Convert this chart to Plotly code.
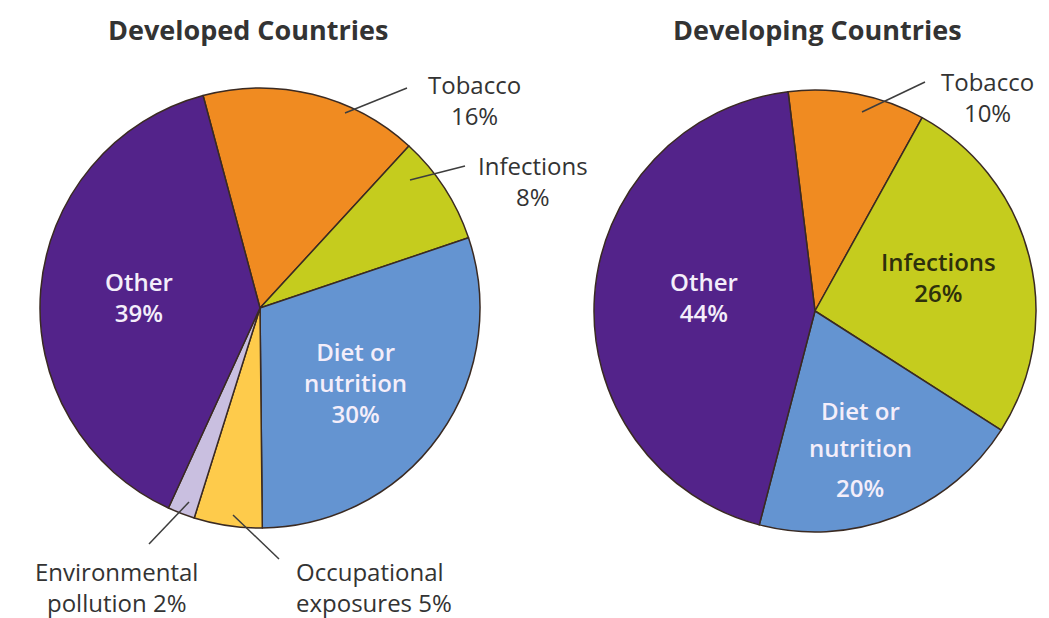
import plotly.graph_objects as go

W, H = 1049, 618

# ---------------- data ----------------
dev_labels = ["Tobacco", "Infections", "Diet or nutrition", "Occupational exposures",
              "Environmental pollution", "Other"]
dev_values = [16, 8, 30, 5, 2, 39]

dvg_labels = ["Tobacco", "Infections", "Diet or nutrition", "Other"]
dvg_values = [10, 26, 20, 44]

titles = ["Developed Countries", "Developing Countries"]

# ---------------- style ----------------
palette = {
    "Tobacco": "#F08B21",
    "Infections": "#C5CC1E",
    "Diet or nutrition": "#6494D1",
    "Occupational exposures": "#FECB4B",
    "Environmental pollution": "#C9BFE0",
    "Other": "#53238A",
}
FONT = "Open Sans"
DARK = "#333333"
LIGHT = "#F4EEFA"


def dom(x0, x1, y0, y1):
    return dict(x=[x0 / W, x1 / W], y=[1 - y1 / H, 1 - y0 / H])


def P(x, y):
    return x / W, 1 - y / H


fig = go.Figure()
fig.add_trace(go.Pie(
    labels=dev_labels, values=dev_values, sort=False, direction="clockwise",
    rotation=-15, textinfo="none", hoverinfo="label+percent",
    marker=dict(colors=[palette[c] for c in dev_labels],
                line=dict(color="#3a2a22", width=1.5)),
    domain=dom(40, 480, 87, 529), showlegend=False,
))
fig.add_trace(go.Pie(
    labels=dvg_labels, values=dvg_values, sort=False, direction="clockwise",
    rotation=-7, textinfo="none", hoverinfo="label+percent",
    marker=dict(colors=[palette[c] for c in dvg_labels],
                line=dict(color="#3a2a22", width=1.5)),
    domain=dom(594, 1036, 90, 532), showlegend=False,
))

annotations = []


def txt(x, y, text, color=DARK, size=24, weight=500, align="center", xanchor="center"):
    ax_, ay_ = P(x, y)
    annotations.append(dict(
        x=ax_, y=ay_, xref="paper", yref="paper", text=text, showarrow=False,
        align=align, xanchor=xanchor, yanchor="middle",
        font=dict(family=FONT, size=size, color=color, weight=weight),
    ))


def pct(v):
    return f"{v}%"


# titles
txt(248, 30, titles[0], size=27, weight="bold")
txt(817, 30, titles[1], size=27, weight="bold")

# developed: outside labels
txt(474, 100, f"Tobacco<br>{pct(dev_values[0])}")
txt(533, 181, f"Infections<br>{pct(dev_values[1])}")
txt(294, 587, f"Occupational<br>exposures {pct(dev_values[3])}", align="left", xanchor="left")
txt(116, 587, f"Environmental<br>pollution {pct(dev_values[4])}")
# developed: inside labels
txt(139, 297, f"Other<br>{pct(dev_values[5])}", color=LIGHT, weight=600)
txt(355, 382, f"Diet or<br>nutrition<br>{pct(dev_values[2])}", color=LIGHT, weight=600)

# developing
txt(987, 97, f"Tobacco<br>{pct(dvg_values[0])}")
txt(704, 297, f"Other<br>{pct(dvg_values[3])}", color=LIGHT, weight=600)
txt(938, 277, f"Infections<br>{pct(dvg_values[1])}", color="#2e300c", weight=600)
txt(860, 410, "Diet or", color=LIGHT, weight=600)
txt(860, 447, "nutrition", color=LIGHT, weight=600)
txt(860, 487, pct(dvg_values[2]), color=LIGHT, weight=600)

shapes = []


def leader(x0, y0, x1, y1):
    a0, b0 = P(x0, y0)
    a1, b1 = P(x1, y1)
    shapes.append(dict(type="line", xref="paper", yref="paper", x0=a0, y0=b0,
                       x1=a1, y1=b1, line=dict(color="#3d3d3d", width=1.5)))


leader(345, 113, 407, 88)
leader(410, 180, 465, 166)
leader(233, 515, 279, 559)
leader(189, 502, 149, 544)
leader(862, 112, 925, 82)

fig.update_layout(
    width=W, height=H, margin=dict(l=0, r=0, t=0, b=0),
    paper_bgcolor="white", plot_bgcolor="white",
    annotations=annotations, shapes=shapes,
    font=dict(family=FONT, color=DARK),
)
fig.write_html("out.html")
